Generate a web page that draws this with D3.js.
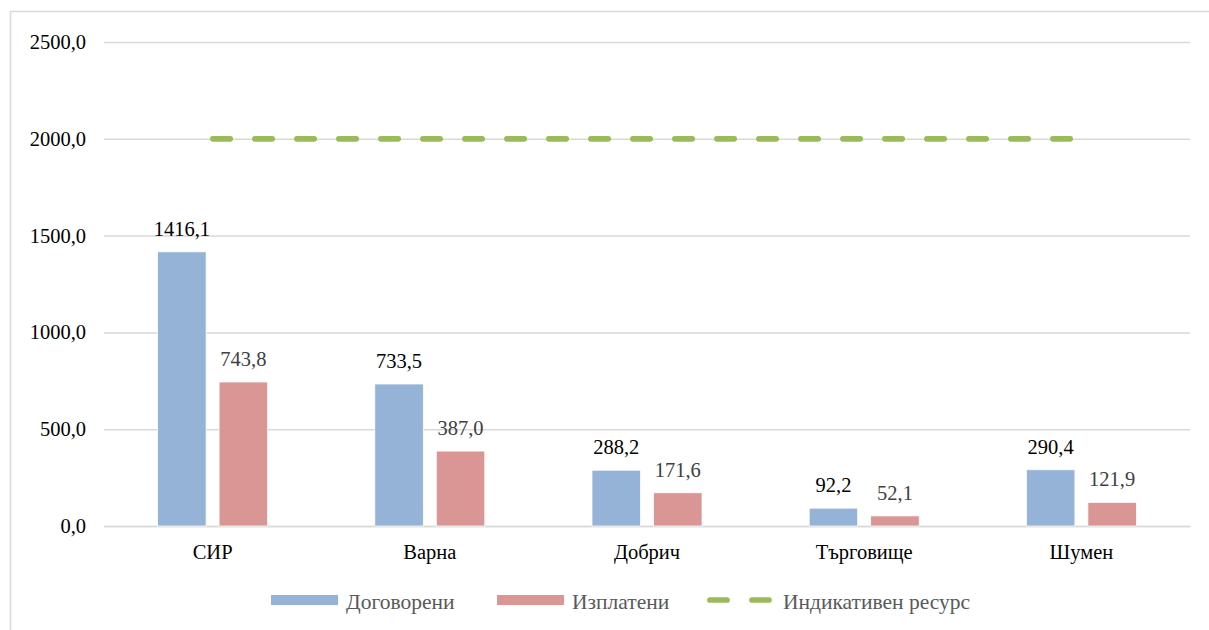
<!DOCTYPE html>
<html>
<head>
<meta charset="utf-8">
<script src="https://cdn.jsdelivr.net/npm/d3@7"></script>
<style>
  body { margin: 0; background: #fff; }
  svg text { font-family: "Liberation Serif", "Times New Roman", serif; }
</style>
</head>
<body>
<svg id="chart"></svg>
<script>
// Chart data
const categories = ["СИР", "Варна", "Добрич", "Търговище", "Шумен"];
const contracted = [1416.1, 733.5, 288.2, 92.2, 290.4];
const paid = [743.8, 387.0, 171.6, 52.1, 121.9];
const indicative = [2000, 2000, 2000, 2000, 2000];
const yTicks = [0, 500, 1000, 1500, 2000, 2500];
const seriesNames = ["Договорени", "Изплатени", "Индикативен ресурс"];

const width = 1209, height = 630;
const margin = {left: 104, right: 19, top: 42, bottom: 104};
const fs = 20.5;

const fmt = v => d3.format(".1f")(v).replace(".", ",");

const svg = d3.select("#chart")
	.attr("width", width)
	.attr("height", height);

// Outer chart border (runs off the page on right and bottom)
svg.append("rect")
	.attr("x", 10.5).attr("y", 11.5)
	.attr("width", 1250).attr("height", 700)
	.attr("fill", "none")
	.attr("stroke", "#d9d9d9")
	.attr("stroke-width", 1.5);

const x = d3.scaleBand()
	.domain(categories)
	.range([margin.left, width - margin.right]);

const y = d3.scaleLinear()
	.domain([0, 2500])
	.range([height - margin.bottom, margin.top]);

// Gridlines + y tick labels
const yAxis = svg.append("g")
	.attr("transform", `translate(${margin.left},0)`)
	.call(d3.axisLeft(y).tickValues(yTicks).tickFormat(fmt)
		.tickSize(-(width - margin.left - margin.right)).tickPadding(18));
yAxis.attr("font-size", fs).attr("font-family", null);
yAxis.select(".domain").remove();
yAxis.selectAll(".tick line").attr("stroke", "#d9d9d9").attr("stroke-width", 1.5);
yAxis.selectAll(".tick text").attr("fill", "#000");

// Category labels
const xAxis = svg.append("g")
	.attr("transform", `translate(0,${y(0)})`)
	.call(d3.axisBottom(x).tickSize(0).tickPadding(18));
xAxis.attr("font-size", fs).attr("font-family", null);
xAxis.select(".domain").attr("stroke", "#d9d9d9").attr("stroke-width", 1.5);
xAxis.selectAll(".tick text").attr("fill", "#000");

// Bars (two per category, 13px apart)
const barW = 48.5, gap = 13;
const inner = d3.scaleBand()
	.domain([0, 1])
	.range([-(barW + gap / 2), barW + gap / 2])
	.paddingInner(gap / (barW + gap));

const series = [
	{values: contracted, color: "#95b3d7", label: "#000"},
	{values: paid, color: "#d99694", label: "#404040"}
];

series.forEach((s, i) => {
	const cx = d => x(d) + x.bandwidth() / 2;
	svg.append("g").selectAll("rect")
		.data(categories)
		.join("rect")
		.attr("x", (d) => cx(d) + inner(i))
		.attr("width", inner.bandwidth())
		.attr("y", (d, j) => y(s.values[j]))
		.attr("height", (d, j) => y(0) - y(s.values[j]))
		.attr("fill", s.color)
		.attr("stroke", "#fff")
		.attr("stroke-width", 0.75);

	svg.append("g").selectAll("text")
		.data(categories)
		.join("text")
		.attr("x", d => cx(d) + inner(i) + inner.bandwidth() / 2)
		.attr("y", (d, j) => y(s.values[j]) - 16)
		.attr("text-anchor", "middle")
		.attr("font-size", fs)
		.attr("fill", s.label)
		.text((d, j) => fmt(s.values[j]));
});

// Indicative resource line
const line = d3.line()
	.x(d => x(d.c) + x.bandwidth() / 2)
	.y(d => y(d.v));
svg.append("path")
	.datum(categories.map((c, i) => ({c, v: indicative[i]})))
	.attr("d", line)
	.attr("fill", "none")
	.attr("stroke", "#9bbb59")
	.attr("stroke-width", 5.7)
	.attr("stroke-linecap", "round")
	.attr("stroke-dasharray", "17.3 24.7")
	.attr("stroke-dashoffset", -0.3);

// Legend
const legend = svg.append("g").attr("transform", "translate(0,600)");
const items = [
	{x: 271, type: "rect", color: "#95b3d7", tx: 346},
	{x: 497, type: "rect", color: "#d99694", tx: 572},
	{x: 707, type: "line", color: "#9bbb59", tx: 783}
];
items.forEach((it, i) => {
	if (it.type === "rect") {
		legend.append("rect")
			.attr("x", it.x).attr("y", -5)
			.attr("width", 67).attr("height", 10)
			.attr("fill", it.color);
	} else {
		[0, 42].forEach(o => legend.append("line")
			.attr("x1", it.x + o + 3).attr("x2", it.x + o + 20)
			.attr("y1", 0).attr("y2", 0)
			.attr("stroke", it.color).attr("stroke-width", 5.7)
			.attr("stroke-linecap", "round"));
	}
	legend.append("text")
		.attr("x", it.tx)
		.attr("y", 9)
		.attr("font-size", 21.5)
		.attr("fill", "#595959")
		.text(seriesNames[i]);
});
</script>
</body>
</html>
